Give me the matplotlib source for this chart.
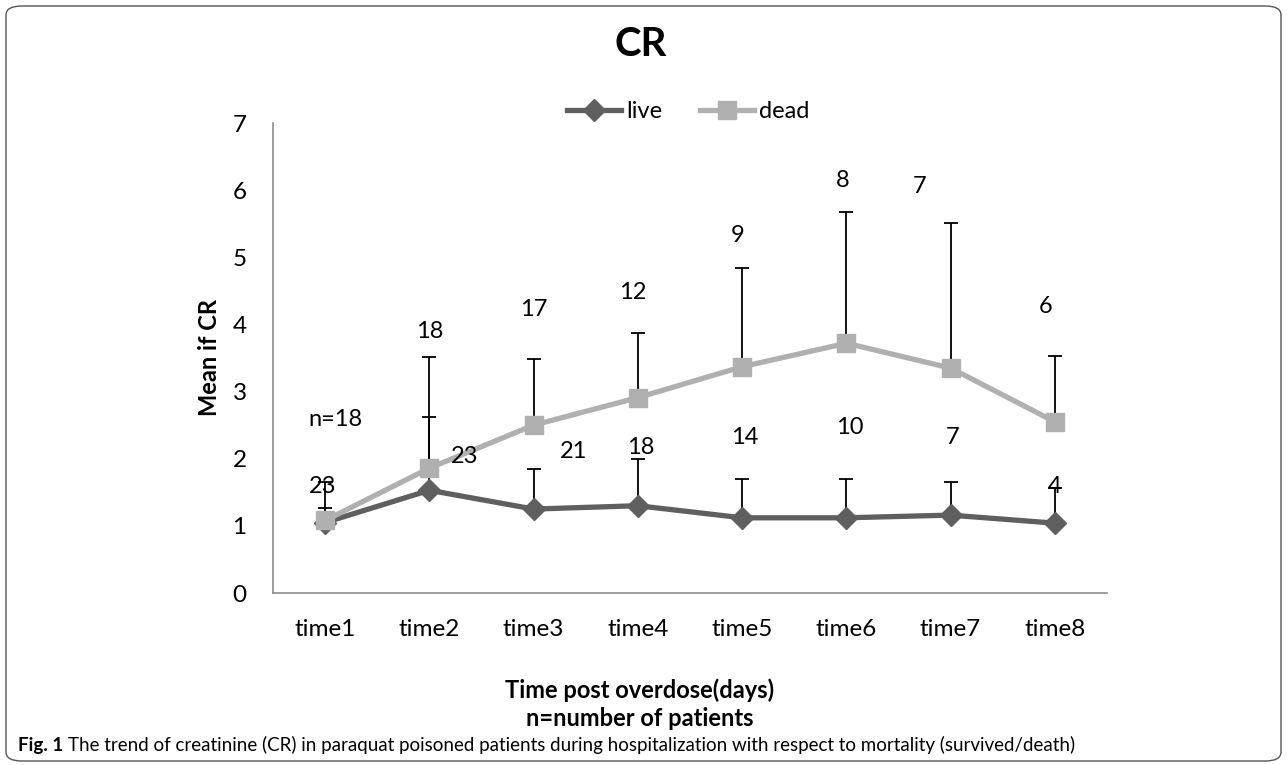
import matplotlib.pyplot as plt
from matplotlib.patches import FancyBboxPatch
import numpy as np

# data
times = ["time1", "time2", "time3", "time4", "time5", "time6", "time7", "time8"]
live_mean = [1.05, 1.53, 1.25, 1.30, 1.12, 1.12, 1.16, 1.04]
live_sd = [0.22, 1.09, 0.60, 0.70, 0.58, 0.58, 0.49, 0.53]
dead_mean = [1.08, 1.86, 2.50, 2.91, 3.37, 3.72, 3.35, 2.55]
dead_sd = [0.57, 1.66, 0.99, 0.96, 1.47, 1.96, 2.16, 0.98]
live_n = ["23", "23", "21", "18", "14", "10", "7", "4"]
dead_n = ["n=18", "18", "17", "12", "9", "8", "7", "6"]

# where the n labels sit (x shift in categories, y in data units)
live_lab_pos = [(-0.02, 1.59), (0.34, 2.04), (0.38, 2.10), (0.03, 2.16),
                (0.02, 2.32), (0.03, 2.47), (0.02, 2.32), (0.0, 1.58)]
dead_lab_pos = [(0.10, 2.59), (0.0, 3.89), (0.0, 4.22), (-0.05, 4.47),
                (-0.04, 5.32), (-0.04, 6.15), (-0.30, 6.05), (-0.09, 4.26)]

plt.rcParams['font.family'] = ['Lato', 'DejaVu Sans']

fig = plt.figure(figsize=(12.87, 7.65), dpi=100)
ax = fig.add_axes([273 / 1287, 1 - 593 / 765, (1107 - 273) / 1287, (593 - 123) / 765])

x = np.arange(len(times))
live_c = "#5f5f5f"
dead_c = "#b0b0b0"

ax.errorbar(x, live_mean, yerr=[np.zeros(len(x)), live_sd], fmt="none",
            ecolor="black", elinewidth=1.3, capsize=5, capthick=1.3, zorder=2)
ax.errorbar(x, dead_mean, yerr=[np.zeros(len(x)), dead_sd], fmt="none",
            ecolor="black", elinewidth=1.3, capsize=5, capthick=1.3, zorder=2)
ax.plot(x, live_mean, color=live_c, lw=3.8, marker="D", ms=11,
        label="live", zorder=3)
ax.plot(x, dead_mean, color=dead_c, lw=3.8, marker="s", ms=13,
        label="dead", zorder=4)

for i in range(len(x)):
    dx, y = live_lab_pos[i]
    ax.text(x[i] + dx, y, live_n[i], ha="center", va="center", fontsize=17, zorder=5)
    dx, y = dead_lab_pos[i]
    ax.text(x[i] + dx, y, dead_n[i], ha="center", va="center", fontsize=17, zorder=5)

ax.set_xlim(-0.5, 7.5)
ax.set_ylim(0, 7)
ax.set_xticks(x)
ax.set_xticklabels(times)
ax.set_yticks(range(0, 8))
ax.tick_params(axis="both", length=0, labelsize=17.5)
ax.tick_params(axis="x", pad=19)
ax.tick_params(axis="y", pad=19)
for s in ("top", "right"):
    ax.spines[s].set_visible(False)
for s in ("left", "bottom"):
    ax.spines[s].set_color("#8c8c8c")
    ax.spines[s].set_linewidth(1.2)

ax.set_ylabel("Mean if CR", fontsize=17, fontweight="bold", labelpad=8)

fig.text(641 / 1287, 1 - 45 / 765, "CR", ha="center", va="center",
         fontsize=29, fontweight="bold")
fig.text(640 / 1287, 1 - 690 / 765, "Time post overdose(days)", ha="center",
         va="center", fontsize=17, fontweight="bold")
fig.text(640 / 1287, 1 - 718 / 765, "n=number of patients", ha="center",
         va="center", fontsize=17, fontweight="bold")

fig.legend(loc="center", bbox_to_anchor=(688 / 1287, 1 - 112 / 765), ncol=2,
           frameon=False, fontsize=17, handlelength=2.3, handletextpad=0.2,
           columnspacing=1.6)

# caption and frame
fig.text(18 / 1287, 1 - 745 / 765, "Fig. 1", ha="left", va="center",
         fontsize=13.5, fontweight="bold")
fig.text(68 / 1287, 1 - 745 / 765,
         "The trend of creatinine (CR) in paraquat poisoned patients during "
         "hospitalization with respect to mortality (survived/death)",
         ha="left", va="center", fontsize=13.5)
frame = FancyBboxPatch((6 / 1287, 4 / 765), 1275 / 1287, 755 / 765,
                       boxstyle="round,pad=0,rounding_size=0.012",
                       transform=fig.transFigure, fill=False,
                       edgecolor="#555555", lw=1.0)
fig.patches.append(frame)

plt.savefig("out.png", dpi=100)
